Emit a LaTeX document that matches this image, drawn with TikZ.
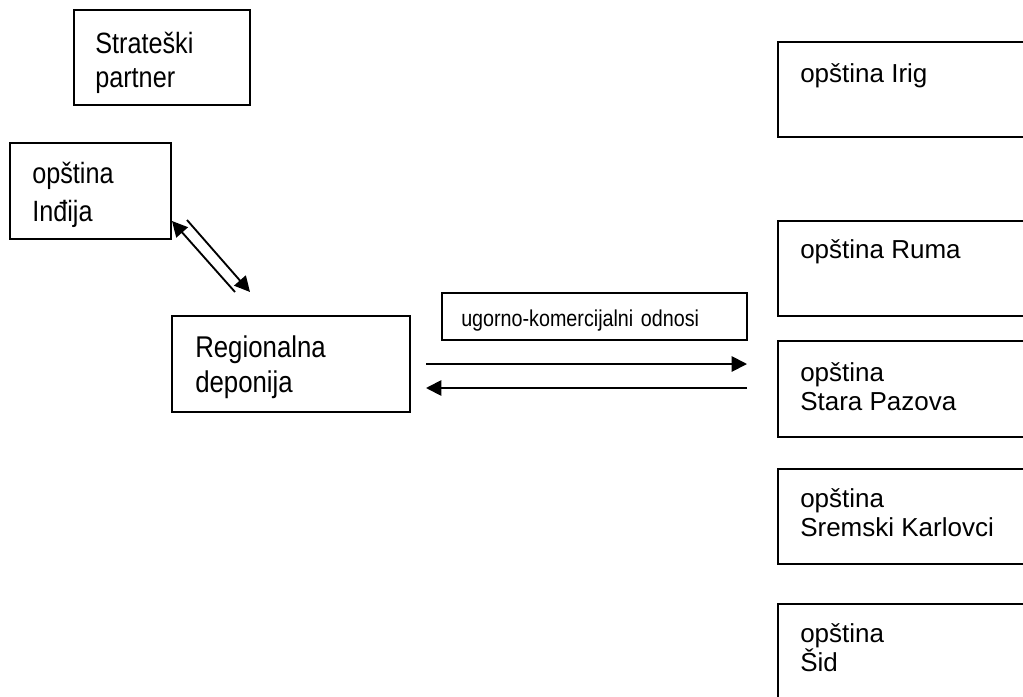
\documentclass[tikz,border=0pt]{standalone}
\usepackage{fontspec}
\setmainfont{Liberation Sans}
\newfontfamily\tallfont[FakeStretch=0.86]{Liberation Sans}
\usetikzlibrary{arrows.meta}
\begin{document}
\begin{tikzpicture}[x=0.75pt,y=-0.75pt,
  box/.style={draw,line width=1.5pt,anchor=north west,inner sep=0pt,outer sep=0pt},
  lbl/.style={anchor=north west,inner sep=0pt,align=left},
  tlbl/.style={anchor=base west,inner sep=0pt,text width=200pt,align=left},
  bigR/.style={font=\fontsize{19.5}{21.75}\selectfont},
  small/.style={font=\tallfont\fontsize{17.2}{20}\selectfont},
  arr/.style={line width=1.4pt,-{Triangle[length=11.5pt,width=11.5pt]}}]
\useasboundingbox (0,0) rectangle (1023,696);
\clip (0,0) rectangle (1023,696);
% boxes
\node[box,minimum width=132pt,minimum height=71.25pt] (strat) at (74,10) {};
\node[box,minimum width=120.75pt,minimum height=72pt] (indjija) at (10,143) {};
\node[box,minimum width=178.5pt,minimum height=72pt] (region) at (172,316) {};
\node[box,minimum width=228.75pt,minimum height=35.25pt] (odnosi) at (442,293) {};
\node[box,minimum width=195pt,minimum height=71.25pt] (irig) at (778,42) {};
\node[box,minimum width=195pt,minimum height=71.25pt] (ruma) at (778,221) {};
\node[box,minimum width=195pt,minimum height=72pt] (stara) at (778,341) {};
\node[box,minimum width=195pt,minimum height=71.25pt] (srem) at (778,469) {};
\node[box,minimum width=195pt,minimum height=90pt] (sid) at (778,604) {};
% texts
\node[tlbl,font=\tallfont\fontsize{22}{25.5}\selectfont] (t-strat) at (95,53) {Strateški\\partner};
\node[tlbl,font=\tallfont\fontsize{22}{28.5}\selectfont] (t-indjija) at (32,183) {opština\\Inđija};
\node[tlbl,font=\tallfont\fontsize{22.5}{26.25}\selectfont] (t-region) at (195,357) {Regionalna\\deponija};
\node[tlbl,small] (t-odnosi) at (461,326) {ugorno-komercijalni odnosi};
\node[lbl,bigR] (t-irig) at (800,63) {opština Irig};
\node[lbl,bigR] (t-ruma) at (800,239) {opština Ruma};
\node[lbl,bigR] (t-stara) at (800,362) {opština\\Stara Pazova};
\node[lbl,bigR] (t-srem) at (800,488) {opština\\Sremski Karlovci};
\node[lbl,bigR] (t-sid) at (800,623) {opština\\Šid};
% connector end points
\coordinate (d1s) at (235,292);
\coordinate (d1e) at (172,221);
\coordinate (d2s) at (187,220);
\coordinate (d2e) at (250,292);
\coordinate (h1s) at (426,364);
\coordinate (h1e) at (747,364);
\coordinate (h2s) at (747,388);
\coordinate (h2e) at (426,388);
\draw[arr] (d1s) -- (d1e);
\draw[arr] (d2s) -- (d2e);
\draw[arr] (h1s) -- (h1e);
\draw[arr] (h2s) -- (h2e);
\end{tikzpicture}
\end{document}
